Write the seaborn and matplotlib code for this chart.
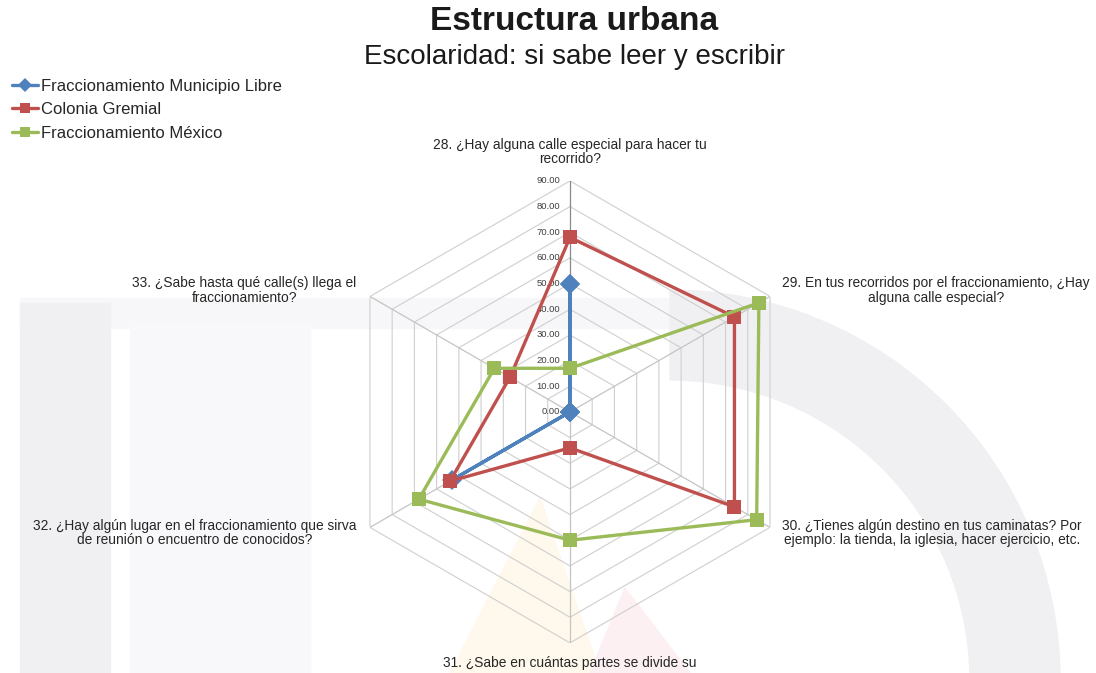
import numpy as np
import pandas as pd
import matplotlib
matplotlib.use("Agg")
import matplotlib.pyplot as plt
import seaborn as sns
from matplotlib.patches import Rectangle, Polygon, Wedge

questions = [
    "28. ¿Hay alguna calle especial para hacer tu\nrecorrido?",
    "29. En tus recorridos por el fraccionamiento, ¿Hay\nalguna calle especial?",
    "30. ¿Tienes algún destino en tus caminatas? Por\nejemplo: la tienda, la iglesia, hacer ejercicio, etc.",
    "31. ¿Sabe en cuántas partes se divide su\nfraccionamiento?",
    "32. ¿Hay algún lugar en el fraccionamiento que sirva\nde reunión o encuentro de conocidos?",
    "33. ¿Sabe hasta qué calle(s) llega el\nfraccionamiento?",
]
series_names = ["Fraccionamiento Municipio Libre", "Colonia Gremial", "Fraccionamiento México"]
municipio_libre = [50.0, 0.0, 0.0, 0.0, 53.0, 0.0]
colonia_gremial = [68.0, 74.0, 74.0, 14.0, 54.0, 27.0]
fracc_mexico = [17.0, 85.0, 84.0, 50.0, 68.0, 34.0]
r_ticks = [0, 10, 20, 30, 40, 50, 60, 70, 80, 90]

colors = ["#4F81BD", "#C0504D", "#9BBB59"]
markers = ["D", "s", "s"]

n = len(questions)
theta = np.arange(n) * 2 * np.pi / n

rows = []
for name, vals in zip(series_names, [municipio_libre, colonia_gremial, fracc_mexico]):
    for t, v in zip(list(theta) + [2 * np.pi], vals + vals[:1]):
        rows.append({"serie": name, "theta": t, "valor": v})
df = pd.DataFrame(rows)

sns.set_style("white")
plt.rcParams["font.family"] = ["Liberation Sans", "DejaVu Sans"]

fig = plt.figure(figsize=(10.96, 6.73), dpi=100)

# faint watermark in the background (inches from bottom-left)
it = fig.dpi_scale_trans
fig.patches.append(Rectangle((0.2, 0.0), 0.9, 3.7, transform=it,
                             color="#f0f0f3", zorder=-5))
fig.patches.append(Rectangle((1.3, 0.0), 1.8, 3.5, transform=it,
                             color="#f8f8fa", zorder=-5))
fig.patches.append(Rectangle((0.2, 3.45), 6.5, 0.3, transform=it,
                             color="#f7f7f9", zorder=-6))
fig.patches.append(Wedge((6.7, -0.07), 3.9, 0, 90, width=0.9, transform=it,
                         color="#f0f0f3", zorder=-5))
fig.patches.append(Polygon([[4.5, 0.0], [5.4, 1.75], [6.0, 0.0]], closed=True,
                           transform=it, color="#fff8ec", zorder=-5))
fig.patches.append(Polygon([[5.9, 0.0], [6.25, 0.85], [6.9, 0.0]], closed=True,
                           transform=it, color="#fcf0f2", zorder=-5))

ax = fig.add_axes([0.3093, 0.0447, 0.4215, 0.6865], projection="polar")
ax.set_facecolor("none")
ax.set_theta_zero_location("N")
ax.set_theta_direction(-1)
ax.set_ylim(0, 90)
ax.grid(False)
ax.spines["polar"].set_visible(False)
ax.set_xticks([])
ax.set_yticks([])

# hexagonal grid
ring_t = list(theta) + [theta[0]]
for r in r_ticks[1:]:
    ax.plot(ring_t, [r] * (n + 1), color="#cfcfcf", lw=0.8, zorder=1)
for i, t in enumerate(theta):
    ax.plot([t, t], [0, 90], color="#8a8a8a" if i == 0 else "#c4c4c4", lw=0.9, zorder=1)

for r in r_ticks:
    ax.annotate(f"{r:.2f}", (0, r), xytext=(-7, 0), textcoords="offset points",
                fontsize=6.8, color="#404040", ha="right", va="center", zorder=2)

sns.lineplot(data=df, x="theta", y="valor", hue="serie", style="serie",
             palette=colors, markers=markers, dashes=False, sort=False,
             estimator=None, lw=2.4, markersize=10, markeredgewidth=0,
             ax=ax, zorder=3)
ax.set_xlabel("")
ax.set_ylabel("")
ax.get_legend().remove()

# category labels
lbl = dict(fontsize=9.9, color="#262626", multialignment="center", linespacing=1.05)
fig.text(0.520, 0.753, questions[0], ha="center", va="bottom", **lbl)
fig.text(0.7135, 0.568, questions[1], ha="left", va="center", **lbl)
fig.text(0.7135, 0.208, questions[2], ha="left", va="center", **lbl)
# only the first line of label 31 fits inside the picture
fig.text(0.520, 0.005, questions[3].split("\n")[0], ha="center", va="bottom", **lbl)
fig.text(0.325, 0.208, questions[4], ha="right", va="center", **lbl)
fig.text(0.325, 0.568, questions[5], ha="right", va="center", **lbl)

fig.text(0.524, 0.968, "Estructura urbana", ha="center", va="center",
         fontsize=24, fontweight="bold", color="#1a1a1a")
fig.text(0.524, 0.915, "Escolaridad: si sabe leer y escribir", ha="center",
         va="center", fontsize=20, color="#1a1a1a")

handles = [plt.Line2D([], [], color=c, marker=m, lw=2.4, markersize=7.5, markeredgewidth=0)
           for c, m in zip(colors, markers)]
fig.legend(handles, series_names, loc="upper left", bbox_to_anchor=(0.0, 0.9),
           frameon=False, fontsize=12, handlelength=1.55, handletextpad=0.2,
           labelspacing=0.5, borderaxespad=0.3)

fig.savefig("out.png", dpi=100)
